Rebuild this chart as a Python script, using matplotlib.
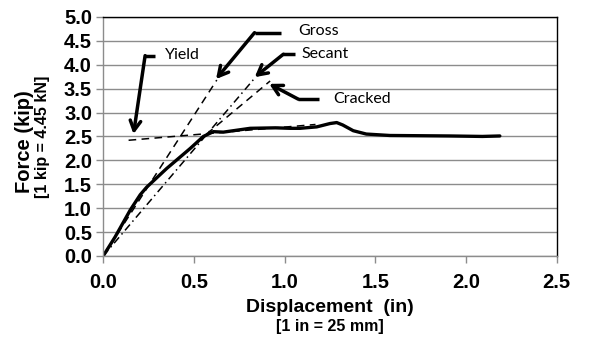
import matplotlib
matplotlib.use("Agg")
import matplotlib.pyplot as plt
import numpy as np

# Measured force-displacement curve
disp = [0.0, 0.066, 0.149, 0.204, 0.24, 0.35, 0.48, 0.552, 0.607, 0.662, 0.81,
        0.95, 1.03, 1.085, 1.177, 1.25, 1.287, 1.32, 1.378, 1.45, 1.58, 1.91,
        2.09, 2.186]
force = [0.0, 0.40, 0.96, 1.28, 1.44, 1.83, 2.25, 2.50, 2.60, 2.59, 2.67,
         2.68, 2.67, 2.67, 2.70, 2.77, 2.79, 2.74, 2.62, 2.55, 2.52, 2.51,
         2.50, 2.51]

# Stiffness / reference lines
gross_x = [0.0, 0.626]
gross_y = [0.0, 3.68]
secant_x = [0.0, 0.835]
secant_y = [0.0, 3.72]
cracked_x = [0.57, 0.92]
cracked_y = [2.55, 3.66]
yield_x = [0.14, 1.17]
yield_y = [2.42, 2.75]

xticks = [0.0, 0.5, 1.0, 1.5, 2.0, 2.5]
yticks = [0.0, 0.5, 1.0, 1.5, 2.0, 2.5, 3.0, 3.5, 4.0, 4.5, 5.0]

fig = plt.figure(figsize=(6, 3.6), dpi=100)
ax = fig.add_axes([0.172, 0.289, 0.756, 0.664])

ax.set_xlim(0, 2.5)
ax.set_ylim(0, 5)
ax.set_xticks(xticks)
ax.set_yticks(yticks)
ax.set_xticklabels([f"{v:.1f}" for v in xticks])
ax.set_yticklabels([f"{v:.1f}" for v in yticks])
ax.yaxis.grid(True, color="#8c8c8c", lw=1.0)
ax.set_axisbelow(True)

for s in ["left", "bottom"]:
    ax.spines[s].set_color("#8c8c8c")
    ax.spines[s].set_linewidth(1.0)
for s in ["top", "right"]:
    ax.spines[s].set_color("black")
    ax.spines[s].set_linewidth(1.0)

ax.tick_params(axis="both", direction="out", length=5, color="#8c8c8c", width=1,
               labelsize=14.5)
ax.tick_params(axis="x", pad=7)
ax.tick_params(axis="y", pad=3)
for lab in ax.get_xticklabels() + ax.get_yticklabels():
    lab.set_fontfamily("Liberation Sans")
    lab.set_fontweight("bold")

ax.plot(gross_x, gross_y, color="black", lw=1.1, ls=(0, (5, 3.5)))
ax.plot(secant_x, secant_y, color="black", lw=1.1, ls=(0, (5, 2.5, 1, 2.5)))
ax.plot(cracked_x, cracked_y, color="black", lw=1.1, ls=(0, (5, 3.5)))
ax.plot(yield_x, yield_y, color="black", lw=1.1, ls=(0, (5, 3.5)))
ax.plot(disp, force, color="black", lw=2.4, solid_capstyle="round")

arrow_style = "->,head_length=0.7,head_width=0.38"
ann_font = dict(fontfamily="Lato", fontsize=11.5, va="center", ha="left")

def callout(text, text_xy, seg_start, corner, head):
    ax.plot([seg_start[0], corner[0]], [seg_start[1], corner[1]], color="black",
            lw=2.5, solid_capstyle="butt", clip_on=False)
    ax.annotate("", xy=head, xytext=corner,
                arrowprops=dict(arrowstyle=arrow_style, lw=2.5, color="black",
                                shrinkA=0, shrinkB=0))
    ax.text(text_xy[0], text_xy[1], text, **ann_font)

callout("Gross", (1.076, 4.71), (0.981, 4.67), (0.834, 4.67), (0.622, 3.70))
callout("Yield", (0.341, 4.20), (0.286, 4.19), (0.231, 4.19), (0.167, 2.55))
callout("Secant", (1.094, 4.23), (1.057, 4.22), (0.993, 4.22), (0.835, 3.74))
callout("Cracked", (1.268, 3.28), (1.19, 3.28), (1.075, 3.28), (0.915, 3.60))

# Axis titles
fig.text(0.549, 1 - 308 / 360, "Displacement  (in)", ha="center", va="center",
         fontfamily="Liberation Sans", fontweight="bold", fontsize=14)
fig.text(0.549, 1 - 327 / 360, "[1 in = 25 mm]", ha="center", va="center",
         fontfamily="Liberation Sans", fontweight="bold", fontsize=11.5)
fig.text(24 / 600, 1 - 142 / 360, "Force (kip)", ha="center", va="center",
         rotation=90, fontfamily="Liberation Sans", fontweight="bold", fontsize=14.5)
fig.text(43 / 600, 1 - 137 / 360, "[1 kip = 4.45 kN]", ha="center", va="center",
         rotation=90, fontfamily="Liberation Sans", fontweight="bold", fontsize=11.5)

fig.savefig("out.png", dpi=100, facecolor="white")
